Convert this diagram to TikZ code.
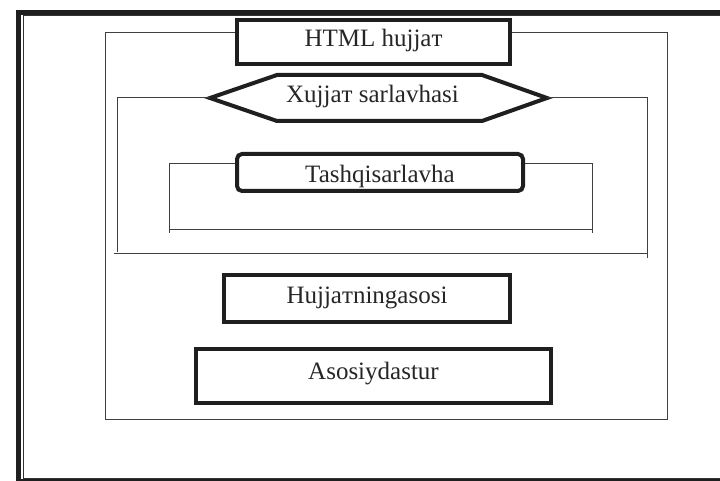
\documentclass[tikz,border=0pt]{standalone}
\usepackage{fontspec}
\setmainfont{Liberation Serif}
\usepackage{tikz}

\begin{document}
\begin{tikzpicture}[
        x=1pt, y=-1pt,
        font=\fontsize{25}{29}\selectfont,
        thinline/.style={line width=1pt, black!75},
        boxline/.style={draw, line width=4pt, black!88, fill=white, text=black!85},
        partbox/.style={boxline, rectangle, inner sep=0pt, text height=17pt, text depth=7pt}
    ]
        \clip (0,0) rectangle (720,481);

        \draw[line width=4.5pt, black!88] (18.5,12.5) rectangle (740,481.5);
        \draw[line width=1pt, black!80] (23.3,16) rectangle (735,478.3);

        \coordinate (docBL) at (105,419);
        \coordinate (docBR) at (667,419);
        \coordinate (headL) at (210,98);
        \coordinate (headR) at (547,98);
        \coordinate (headBL) at (117,252);
        \coordinate (headBR) at (647,258);
        \coordinate (headBase) at (114,253);
        \coordinate (titleBL) at (169,233);
        \coordinate (titleBR) at (592,233);
        \coordinate (titleBase) at (169,230);

        \node[partbox, minimum width=273pt, minimum height=44pt] (html) at (373.5,42) {HTML hujjaт};

        \draw[boxline, line join=miter] (headL) -- (277,75) -- (482,75) -- (headR) -- (482,121) -- (277,121) -- cycle;
        \node[anchor=base, text=black!85] (head) at (372.5,103) {Xujjaт sarlavhasi};

        \node[partbox, rounded corners=5pt, minimum width=286pt, minimum height=37pt, text height=23pt, text depth=2pt] (title) at (380,172.5) {Tashqisarlavha};
        \node[partbox, minimum width=286pt, minimum height=47pt] (body) at (367,298.5) {Hujjaтningasosi};
        \node[partbox, minimum width=355pt, minimum height=54pt, text height=15pt, text depth=9pt] (main) at (373.5,376) {Asosiydastur};

        \draw[thinline] ([yshift=9pt]html.west) -| (docBL) -- (docBR) |- ([yshift=9pt]html.east);

        \draw[thinline] (headL) -| (headBL);
        \draw[thinline] (headR) -| (headBR);
        \draw[thinline] (headBase) -- (headBase -| headBR);

        \draw[thinline] ([yshift=8.5pt]title.west) -| (titleBL);
        \draw[thinline] ([yshift=8.5pt]title.east) -| (titleBR);
        \draw[thinline] (titleBase) -- (titleBase -| titleBR);
    \end{tikzpicture}
\end{document}
